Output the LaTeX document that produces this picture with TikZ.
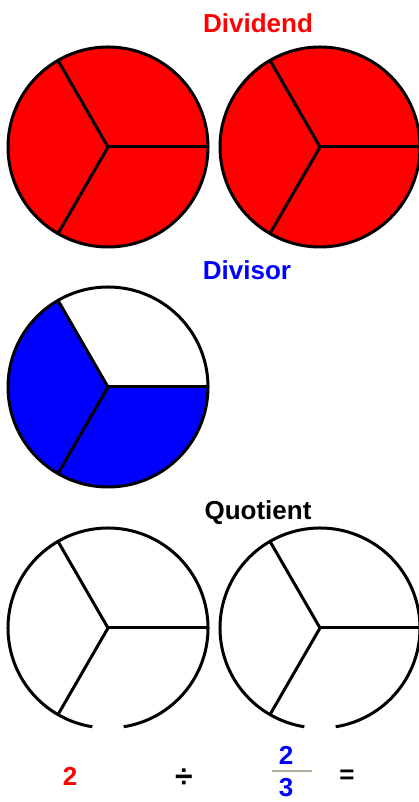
\documentclass[tikz,border=0pt]{standalone}
\usepackage{fontspec}
\setmainfont{Liberation Sans}
\usetikzlibrary{positioning}
\definecolor{cred}{HTML}{FF0000}
\definecolor{cblue}{HTML}{0000FF}
\definecolor{cbar}{HTML}{B0AC98}
\tikzset{
  every picture/.style={line width=3pt},
  pie/.style={draw=black, line width=3pt, line join=round},
  spoke/.style={draw=black, line width=3pt, line cap=round},
  title/.style={font=\fontsize{26}{30}\selectfont\bfseries, inner sep=0pt},
  num/.style={font=\fontsize{26}{30}\selectfont\bfseries, inner sep=0pt},
}

\begin{document}
\begin{tikzpicture}[x=1pt, y=1pt]
  \useasboundingbox (0,0) rectangle (419,802);
  \clip (0,0) rectangle (419,802);
  % dividend: two whole red pies
  \foreach \cx in {108,320} {
    \filldraw[pie, fill=cred] (\cx,655) circle (100);
    \foreach \a in {0,120,240}
      \draw[spoke] (\cx,655) -- ++(\a:100);
  }
  \node[title, text=cred] (dividend) at (258,779) {Dividend};
  % divisor: two thirds in blue
  \fill[cblue] (108,415) -- ++(120:100) arc (120:360:100) -- cycle;
  \draw[pie] (108,415) circle (100);
  \foreach \a in {0,120,240}
    \draw[spoke] (108,415) -- ++(\a:100);
  \node[title, text=cblue] (divisor) at (247,532) {Divisor};
  % quotient: empty pies, open at the bottom
  \foreach \cx in {108,320} {
    \draw[pie] (\cx,174) ++(-81:100) arc (-81:261:100);
    \foreach \a in {0,120,240}
      \draw[spoke] (\cx,174) -- ++(\a:100);
  }
  \node[title] (quotient) at (258,289) {Quotient};
  % the sum below
  \node[num, text=cred] (dvd) at (70,26) {2};
  \node[num, font=\fontsize{32}{36}\selectfont\bfseries] (divsign) at (184,24) {÷};
  \node[num, text=cblue] (numer) at (286,47) {2};
  \node[num, text=cblue] (denom) at (286,14) {3};
  \draw[cbar, line width=2pt] (272,31) -- (312,31);
  \node[num] (eq) at (347,25) {=};
\end{tikzpicture}
\end{document}
